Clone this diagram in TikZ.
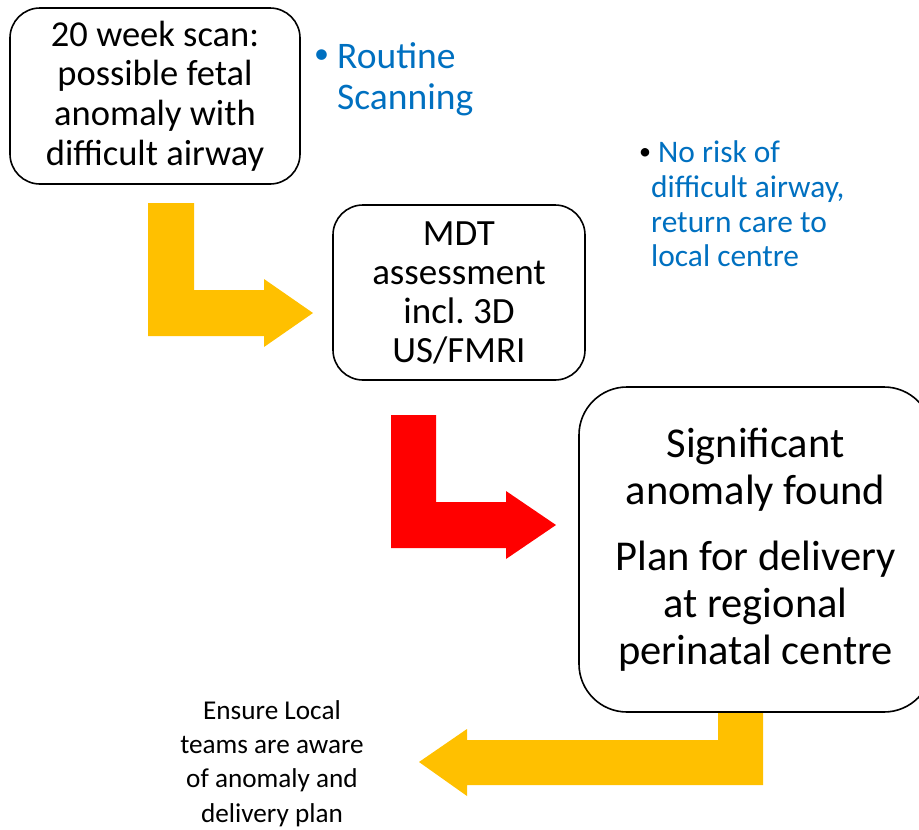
\documentclass[tikz,border=0pt]{standalone}
\usepackage{fontspec}
\setmainfont{Carlito}
\usetikzlibrary{positioning}
\definecolor{amber}{HTML}{FFC000}
\definecolor{alarm}{HTML}{FF0000}
\definecolor{note}{HTML}{0070C0}
\newcommand{\dotmark}[1]{\raisebox{0.12em}{\fontsize{#1}{#1}\selectfont\textbullet}}

\begin{document}
\begin{tikzpicture}[x=1pt,y=-1pt,box/.style={draw,line width=1.6pt,align=center,inner sep=0pt},
 big/.style={font=\fontsize{36.5}{39.8}\selectfont},small/.style={font=\fontsize{27.2}{34.4}\selectfont}]
\useasboundingbox (0,0) rectangle (919,830);
% bent block arrows
\fill[amber] (148,203) -- (194,203) -- (194,290) -- (264,290) -- (264,279) -- (313,313) -- (264,347) -- (264,336) -- (148,336) -- cycle;
\fill[alarm] (391,415) -- (436,415) -- (436,502) -- (506,502) -- (506,491) -- (556,525) -- (506,559) -- (506,548) -- (391,548) -- cycle;
\fill[amber] (763,711) -- (763,785) -- (467,785) -- (467,796) -- (419,762) -- (467,729) -- (467,740) -- (718,740) -- (718,711) -- cycle;
% boxes
\node[box,big,rounded corners=30pt,minimum width=290pt,minimum height=176pt] (scan) at (155,96) {20 week scan:\\possible fetal\\anomaly with\\difficult airway};
\node[box,font=\fontsize{37}{39}\selectfont,rounded corners=30pt,minimum width=252pt,minimum height=175pt] (mdt) at (459,292.5) {MDT\\assessment\\incl.\ 3D\\US/FMRI};
\node[box,font=\fontsize{42.5}{47}\selectfont,rounded corners=48pt,minimum width=353pt,minimum height=325pt] (plan) at (755.5,549.5) {\rule{0pt}{6pt}Significant\\anomaly found\\[19pt]Plan for delivery\\at regional\\perinatal centre};
% side notes
\node[anchor=west,inner sep=0pt,text=note,font=\fontsize{37.5}{41}\selectfont] (routine) at (314,80.5)
 {\begin{tabular}{@{}l@{}l@{}}\makebox[23pt][l]{\dotmark{30}} & Routine\\ & Scanning\end{tabular}};
\node[anchor=west,inner sep=0pt,font=\fontsize{31.4}{34.7}\selectfont] (norisk) at (639,208)
 {\begin{tabular}{@{}l@{}l@{}}\makebox[12pt][l]{\dotmark{24}} & \textcolor{note}{\hspace{7pt}No risk of}\\ & \textcolor{note}{difficult airway,}\\ & \textcolor{note}{return care to}\\ & \textcolor{note}{local centre}\end{tabular}};
\node[small,align=center,inner sep=0pt] (ensure) at (272,763.5) {Ensure Local\\teams are aware\\of anomaly and\\delivery plan};
\end{tikzpicture}
\end{document}
